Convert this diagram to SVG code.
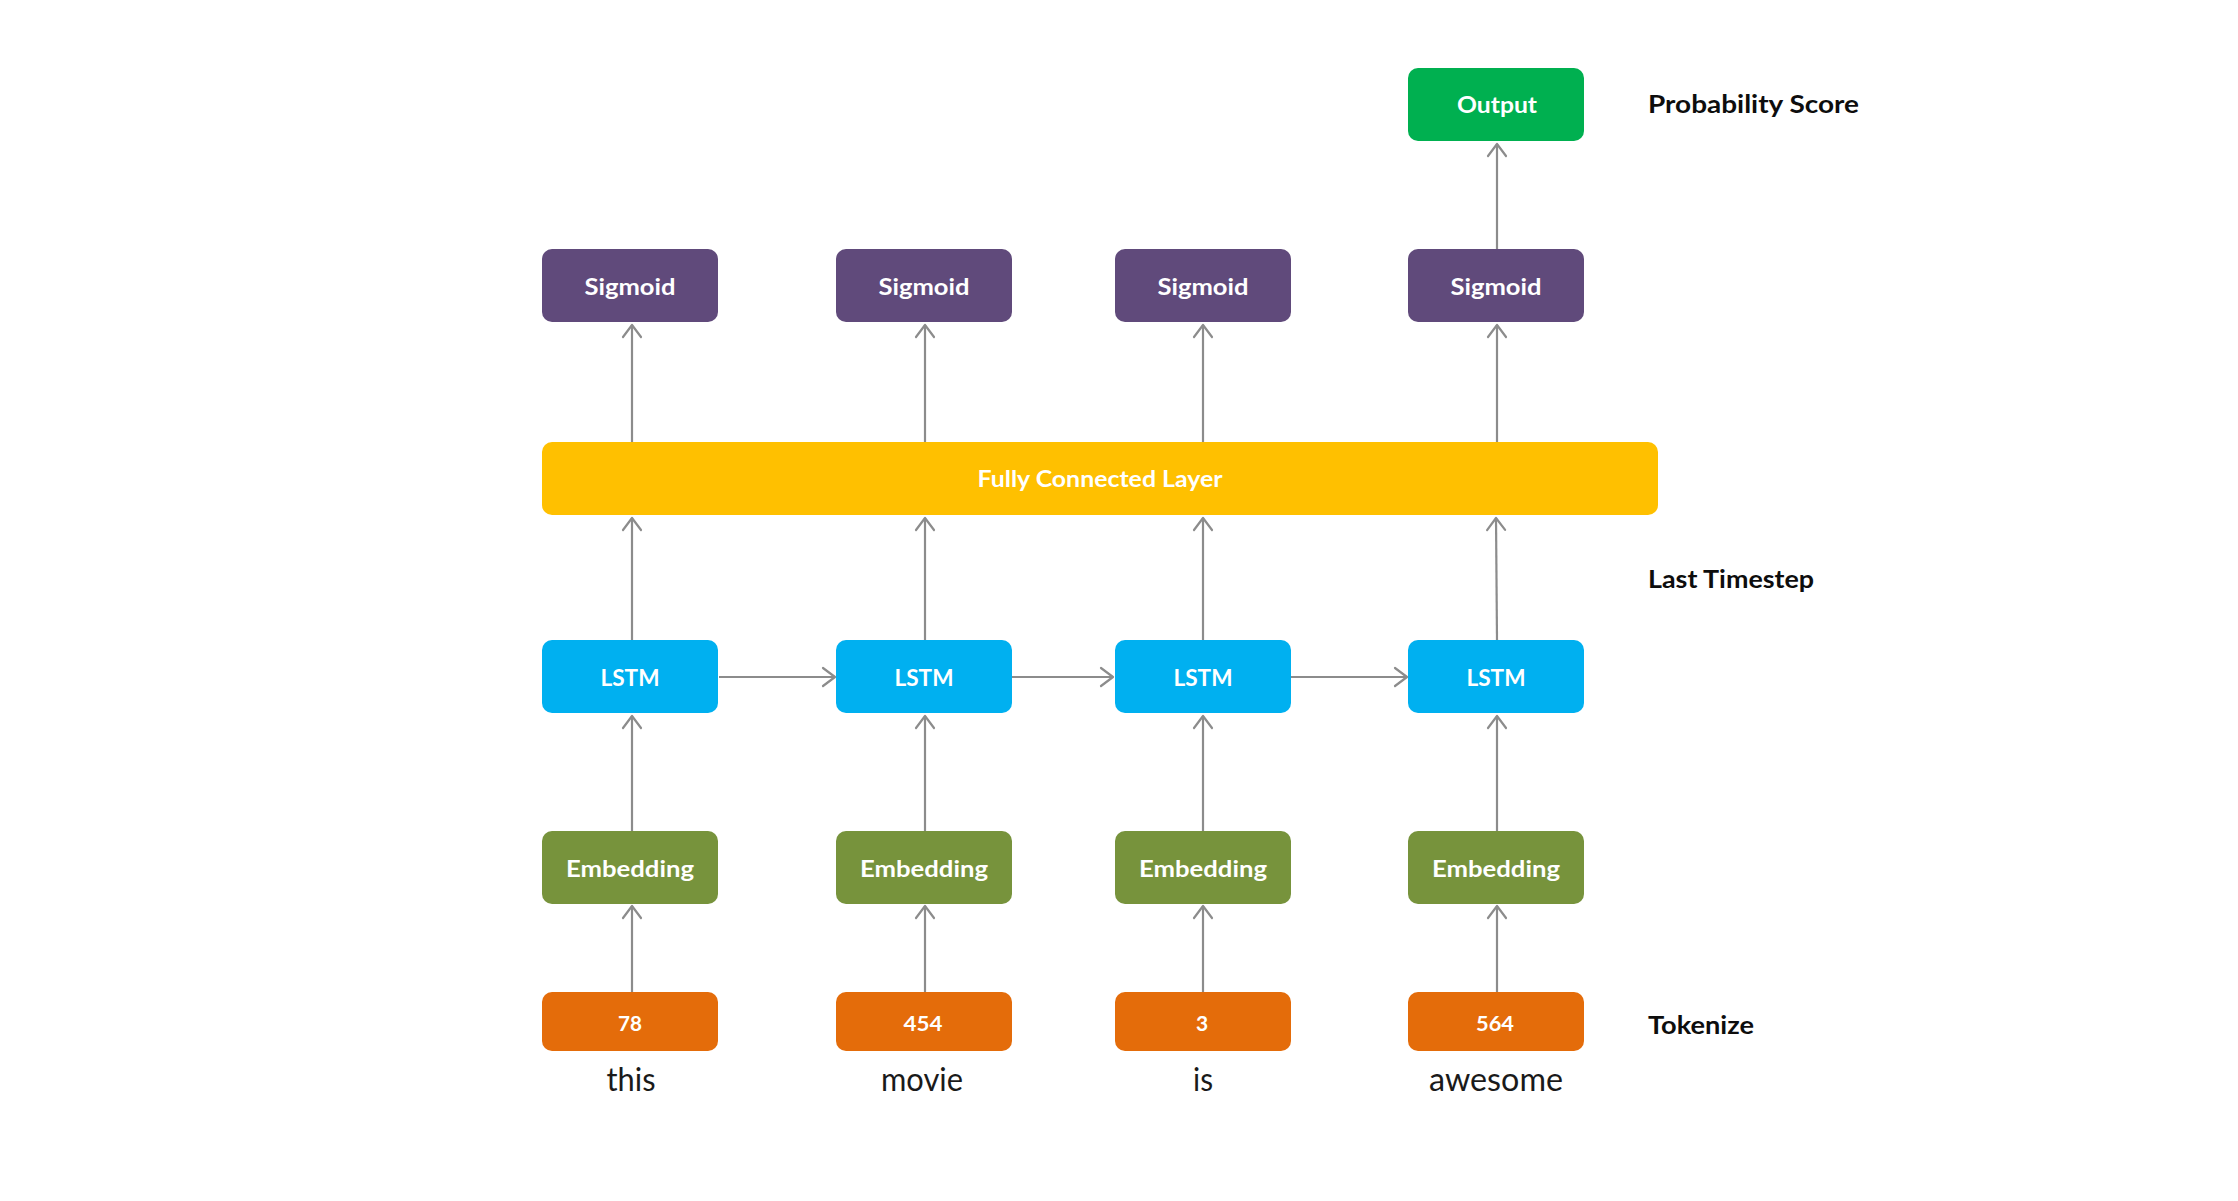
<svg xmlns="http://www.w3.org/2000/svg" width="2238" height="1201" viewBox="0 0 2238 1201">
  <style>
    .box { stroke: none; }
    .sig { fill: #604A7B; }
    .out { fill: #00B050; }
    .fc { fill: #FFC000; }
    .lstm { fill: #00B0F0; }
    .emb { fill: #77933C; }
    .tok { fill: #E46C0A; }
    .lbl { font-family: Lato, "Open Sans", "Liberation Sans", sans-serif; font-weight: bold; fill: #FFFFFF; text-anchor: middle; font-size: 23px; }
    .num { font-size: 21px; }
    .side { font-family: Lato, "Open Sans", "Liberation Sans", sans-serif; font-weight: bold; fill: #0D0D0D; font-size: 25px; }
    .word { font-family: Lato, "Open Sans", "Liberation Sans", sans-serif; fill: #1A1A1A; text-anchor: middle; font-size: 32px; }
    .conn { stroke: #8C8C8C; stroke-width: 2.2; fill: none; marker-end: url(#chev); }
  </style>
  <defs>
    <marker id="chev" markerUnits="userSpaceOnUse" markerWidth="30" markerHeight="30" viewBox="-15 -15 30 30" refX="0" refY="0" orient="auto">
      <path d="M -12 -9 L 0 0 L -12 9" fill="none" stroke="#8C8C8C" stroke-width="2.2" stroke-linecap="round" stroke-linejoin="round"/>
    </marker>
  </defs>
  <rect width="2238" height="1201" fill="#FFFFFF"/>

  <!-- connectors -->
  <g id="connectors">
    <!-- token to embedding -->
    <line class="conn" x1="632" y1="992" x2="632" y2="906"/>
    <line class="conn" x1="925" y1="992" x2="925" y2="906"/>
    <line class="conn" x1="1203" y1="992" x2="1203" y2="906"/>
    <line class="conn" x1="1497" y1="992" x2="1497" y2="906"/>
    <!-- embedding to LSTM -->
    <line class="conn" x1="632" y1="831" x2="632" y2="716"/>
    <line class="conn" x1="925" y1="831" x2="925" y2="716"/>
    <line class="conn" x1="1203" y1="831" x2="1203" y2="716"/>
    <line class="conn" x1="1497" y1="831" x2="1497" y2="716"/>
    <!-- LSTM chain -->
    <line class="conn" x1="719" y1="677" x2="835" y2="677"/>
    <line class="conn" x1="1012" y1="677" x2="1113" y2="677"/>
    <line class="conn" x1="1291" y1="677" x2="1407" y2="677"/>
    <!-- LSTM to fully connected layer -->
    <line class="conn" x1="632" y1="640" x2="632" y2="518"/>
    <line class="conn" x1="925" y1="640" x2="925" y2="518"/>
    <line class="conn" x1="1203" y1="640" x2="1203" y2="518"/>
    <line class="conn" x1="1497" y1="640" x2="1496" y2="518"/>
    <!-- fully connected layer to sigmoid -->
    <line class="conn" x1="632" y1="442" x2="632" y2="325"/>
    <line class="conn" x1="925" y1="442" x2="925" y2="325"/>
    <line class="conn" x1="1203" y1="442" x2="1203" y2="325"/>
    <line class="conn" x1="1497" y1="442" x2="1497" y2="325"/>
    <!-- last sigmoid to output -->
    <line class="conn" x1="1497" y1="249" x2="1497" y2="144"/>
  </g>

  <!-- output -->
  <g id="output">
    <rect class="box out" x="1408" y="68" width="176" height="73" rx="10"/>
    <text class="lbl" x="1497" y="113" textLength="80" lengthAdjust="spacingAndGlyphs">Output</text>
  </g>

  <!-- sigmoid row -->
  <g id="sigmoid1">
    <rect class="box sig" x="542" y="249" width="176" height="73" rx="10"/>
    <text class="lbl" x="630" y="295" textLength="91" lengthAdjust="spacingAndGlyphs">Sigmoid</text>
  </g>
  <g id="sigmoid2">
    <rect class="box sig" x="836" y="249" width="176" height="73" rx="10"/>
    <text class="lbl" x="924" y="295" textLength="91" lengthAdjust="spacingAndGlyphs">Sigmoid</text>
  </g>
  <g id="sigmoid3">
    <rect class="box sig" x="1115" y="249" width="176" height="73" rx="10"/>
    <text class="lbl" x="1203" y="295" textLength="91" lengthAdjust="spacingAndGlyphs">Sigmoid</text>
  </g>
  <g id="sigmoid4">
    <rect class="box sig" x="1408" y="249" width="176" height="73" rx="10"/>
    <text class="lbl" x="1496" y="295" textLength="91" lengthAdjust="spacingAndGlyphs">Sigmoid</text>
  </g>

  <!-- fully connected layer -->
  <g id="fully-connected">
    <rect class="box fc" x="542" y="442" width="1116" height="73" rx="10"/>
    <text class="lbl" x="1100" y="487" textLength="245" lengthAdjust="spacingAndGlyphs">Fully Connected Layer</text>
  </g>

  <!-- LSTM row -->
  <g id="lstm1">
    <rect class="box lstm" x="542" y="640" width="176" height="73" rx="10"/>
    <text class="lbl" x="630" y="686" textLength="59" lengthAdjust="spacingAndGlyphs">LSTM</text>
  </g>
  <g id="lstm2">
    <rect class="box lstm" x="836" y="640" width="176" height="73" rx="10"/>
    <text class="lbl" x="924" y="686" textLength="59" lengthAdjust="spacingAndGlyphs">LSTM</text>
  </g>
  <g id="lstm3">
    <rect class="box lstm" x="1115" y="640" width="176" height="73" rx="10"/>
    <text class="lbl" x="1203" y="686" textLength="59" lengthAdjust="spacingAndGlyphs">LSTM</text>
  </g>
  <g id="lstm4">
    <rect class="box lstm" x="1408" y="640" width="176" height="73" rx="10"/>
    <text class="lbl" x="1496" y="686" textLength="59" lengthAdjust="spacingAndGlyphs">LSTM</text>
  </g>

  <!-- embedding row -->
  <g id="embedding1">
    <rect class="box emb" x="542" y="831" width="176" height="73" rx="10"/>
    <text class="lbl" x="630" y="877" textLength="128" lengthAdjust="spacingAndGlyphs">Embedding</text>
  </g>
  <g id="embedding2">
    <rect class="box emb" x="836" y="831" width="176" height="73" rx="10"/>
    <text class="lbl" x="924" y="877" textLength="128" lengthAdjust="spacingAndGlyphs">Embedding</text>
  </g>
  <g id="embedding3">
    <rect class="box emb" x="1115" y="831" width="176" height="73" rx="10"/>
    <text class="lbl" x="1203" y="877" textLength="128" lengthAdjust="spacingAndGlyphs">Embedding</text>
  </g>
  <g id="embedding4">
    <rect class="box emb" x="1408" y="831" width="176" height="73" rx="10"/>
    <text class="lbl" x="1496" y="877" textLength="128" lengthAdjust="spacingAndGlyphs">Embedding</text>
  </g>

  <!-- token ids -->
  <g id="token1">
    <rect class="box tok" x="542" y="992" width="176" height="59" rx="10"/>
    <text class="lbl num" x="630" y="1031" textLength="24" lengthAdjust="spacingAndGlyphs">78</text>
  </g>
  <g id="token2">
    <rect class="box tok" x="836" y="992" width="176" height="59" rx="10"/>
    <text class="lbl num" x="923" y="1031" textLength="39" lengthAdjust="spacingAndGlyphs">454</text>
  </g>
  <g id="token3">
    <rect class="box tok" x="1115" y="992" width="176" height="59" rx="10"/>
    <text class="lbl num" x="1202" y="1031">3</text>
  </g>
  <g id="token4">
    <rect class="box tok" x="1408" y="992" width="176" height="59" rx="10"/>
    <text class="lbl num" x="1495" y="1031" textLength="38" lengthAdjust="spacingAndGlyphs">564</text>
  </g>

  <!-- input words -->
  <g id="words">
    <text class="word" x="631" y="1091" textLength="49" lengthAdjust="spacingAndGlyphs">this</text>
    <text class="word" x="922" y="1091" textLength="82" lengthAdjust="spacingAndGlyphs">movie</text>
    <text class="word" x="1203" y="1091" textLength="20" lengthAdjust="spacingAndGlyphs">is</text>
    <text class="word" x="1496" y="1091" textLength="134" lengthAdjust="spacingAndGlyphs">awesome</text>
  </g>

  <!-- stage annotations -->
  <g id="annotations">
    <text class="side" x="1648" y="113" textLength="211" lengthAdjust="spacingAndGlyphs">Probability Score</text>
    <text class="side" x="1648" y="588" textLength="166" lengthAdjust="spacingAndGlyphs">Last Timestep</text>
    <text class="side" x="1648" y="1034" textLength="106" lengthAdjust="spacingAndGlyphs">Tokenize</text>
  </g>
</svg>
